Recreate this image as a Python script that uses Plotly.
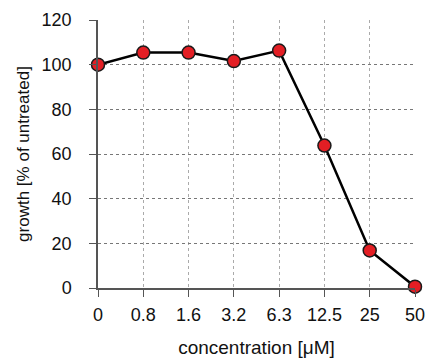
import plotly.graph_objects as go

categories = ["0", "0.8", "1.6", "3.2", "6.3", "12.5", "25", "50"]
growth = [100, 105.4, 105.4, 101.6, 106.3, 63.8, 16.8, 0.6]
y_ticks = [0, 20, 40, 60, 80, 100, 120]

fig = go.Figure()
fig.add_trace(go.Scatter(
    x=list(range(len(categories))), y=growth, mode="lines+markers",
    line=dict(color="black", width=2.5),
    marker=dict(size=13, color="#e31e24", line=dict(color="#1a1a1a", width=1.5)),
    cliponaxis=False, showlegend=False,
))
font = "Liberation Sans, Arial, sans-serif"
fig.update_layout(
    width=427, height=360,
    margin=dict(l=98, r=12, t=20, b=72),
    paper_bgcolor="white", plot_bgcolor="white",
    font=dict(family=font, size=18, color="#111111"),
    xaxis=dict(
        range=[0, len(categories) - 1], tickmode="array",
        tickvals=list(range(len(categories))), ticktext=categories,
        showgrid=True, gridcolor="#aaaaaa", griddash="dot", gridwidth=1,
        showline=True, linecolor="#555555", linewidth=1.5,
        ticks="outside", ticklen=7, tickcolor="#555555",
        ticklabelstandoff=3, automargin=False,
        title=dict(text="concentration [μM]", standoff=16, font=dict(size=19)),
        zeroline=False, mirror=False,
    ),
    yaxis=dict(
        range=[0, 120], tickvals=y_ticks,
        showgrid=True, gridcolor="#777777", griddash="dot", gridwidth=1,
        showline=True, linecolor="#555555", linewidth=1.5,
        ticks="outside", ticklen=7, tickcolor="#555555",
        ticklabelstandoff=14, automargin=False,
        title=dict(text="growth [% of untreated]", standoff=8, font=dict(size=17)),
        zeroline=False,
    ),
)
fig.write_html(
    "out.html",
    config={"displayModeBar": False},
    post_script="document.body.style.margin='0';document.body.style.overflow='hidden';",
)
